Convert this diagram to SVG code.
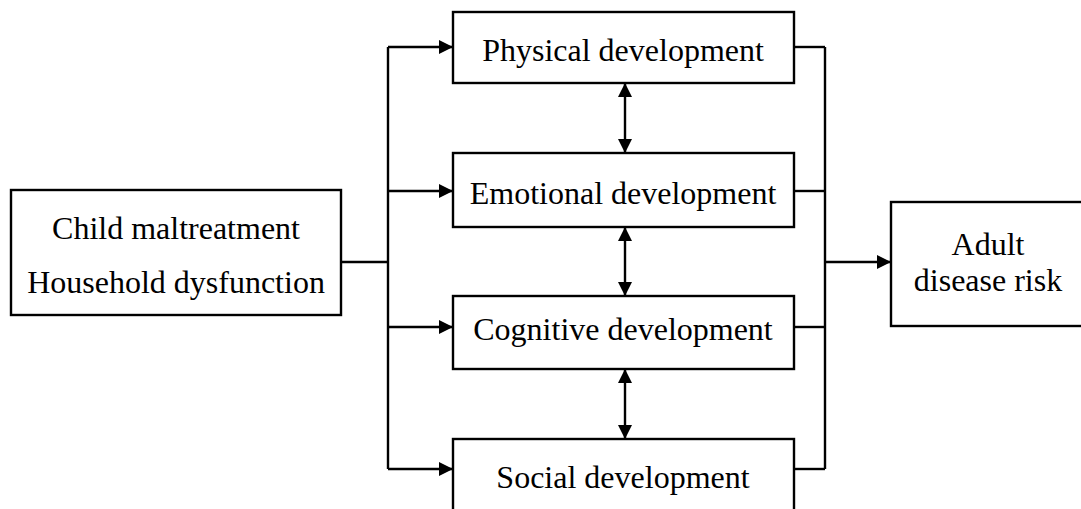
<svg xmlns="http://www.w3.org/2000/svg" width="1081" height="509" viewBox="0 0 1081 509">
  <style>
    .box { fill: #fff; stroke: #000; stroke-width: 2.4; }
    .lbl { font-family: "Liberation Serif", "Times New Roman", serif; font-size: 32px; fill: #000; text-anchor: middle; }
    .wire { fill: none; stroke: #000; stroke-width: 2.4; }
  </style>
  <defs>
    <marker id="head" viewBox="0 0 14 14" refX="14" refY="7" markerWidth="14" markerHeight="14" markerUnits="userSpaceOnUse" orient="auto-start-reverse">
      <path d="M0,0 L14,7 L0,14 Z" fill="#000"/>
    </marker>
  </defs>
  <rect width="1081" height="509" fill="#fff"/>

  <g id="connectors">
    <!-- input fan-out -->
    <path class="wire" d="M341,262 H388"/>
    <path class="wire" d="M388,47 V469"/>
    <path class="wire" d="M388,47 H453" marker-end="url(#head)"/>
    <path class="wire" d="M388,191 H453" marker-end="url(#head)"/>
    <path class="wire" d="M388,327 H453" marker-end="url(#head)"/>
    <path class="wire" d="M388,469 H453" marker-end="url(#head)"/>
    <!-- output fan-in -->
    <path class="wire" d="M794,47 H825"/>
    <path class="wire" d="M794,191 H825"/>
    <path class="wire" d="M794,327 H825"/>
    <path class="wire" d="M794,469 H825"/>
    <path class="wire" d="M825,47 V469"/>
    <path class="wire" d="M825,262 H891" marker-end="url(#head)"/>
    <!-- links between development domains -->
    <path class="wire" d="M625,83 V153" marker-start="url(#head)" marker-end="url(#head)"/>
    <path class="wire" d="M625,227 V296" marker-start="url(#head)" marker-end="url(#head)"/>
    <path class="wire" d="M625,369 V439" marker-start="url(#head)" marker-end="url(#head)"/>
  </g>

  <g id="adversity">
    <rect class="box" x="11" y="190" width="330" height="125"/>
    <text class="lbl" x="176" y="239">Child maltreatment</text>
    <text class="lbl" x="176" y="293">Household dysfunction</text>
  </g>

  <g id="physical">
    <rect class="box" x="453" y="12" width="341" height="71"/>
    <text class="lbl" x="623" y="61">Physical development</text>
  </g>

  <g id="emotional">
    <rect class="box" x="453" y="153" width="341" height="74"/>
    <text class="lbl" x="623" y="204">Emotional development</text>
  </g>

  <g id="cognitive">
    <rect class="box" x="453" y="296" width="341" height="73"/>
    <text class="lbl" x="623" y="340">Cognitive development</text>
  </g>

  <g id="social">
    <rect class="box" x="453" y="439" width="341" height="80"/>
    <text class="lbl" x="623" y="488">Social development</text>
  </g>

  <g id="outcome">
    <rect class="box" x="891" y="202" width="200" height="124"/>
    <text class="lbl" x="988" y="255">Adult</text>
    <text class="lbl" x="988" y="291">disease risk</text>
  </g>
</svg>
